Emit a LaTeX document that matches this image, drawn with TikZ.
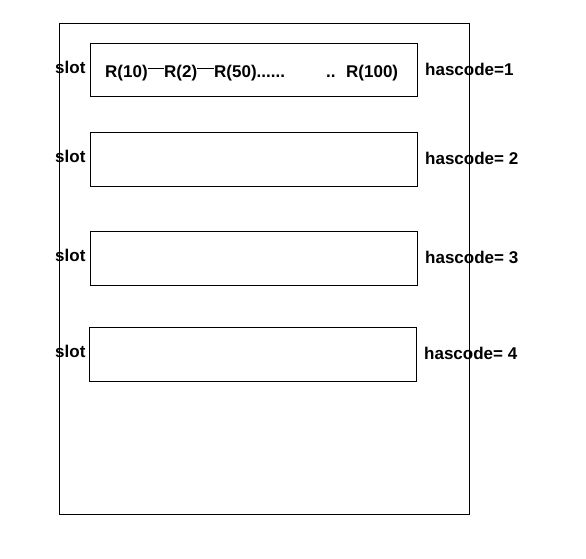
\documentclass[tikz,border=0pt]{standalone}
\usepackage{fontspec}
\setmainfont{Liberation Sans}
\begin{document}
\begin{tikzpicture}[x=1pt,y=-1pt,
  every node/.style={inner sep=0pt,font=\fontsize{17}{17}\selectfont\bfseries},
  frame/.style={draw=black,line width=1pt},
  slotbox/.style={draw=black,line width=1pt},
  lbl/.style={anchor=base west},
  link/.style={draw=black,line width=0.8pt}]
\useasboundingbox (0,0) rectangle (586,558);
\fill[white] (0,0) rectangle (586,558);
% outer table
\draw[frame] (59,23) rectangle (469,514);
% slot boxes
\draw[slotbox] (90,43) rectangle (417,96);
\draw[slotbox] (90,132) rectangle (417,186);
\draw[slotbox] (90,231) rectangle (417,285);
\draw[slotbox] (89,327) rectangle (416,381);
% slot labels
\node[lbl] (s1) at (55,73) {slot};
\node[lbl] (s2) at (55,162) {slot};
\node[lbl] (s3) at (55,261) {slot};
\node[lbl] (s4) at (55,357) {slot};
% hascode labels
\node[lbl] (h1) at (425,75) {hascode=1};
\node[lbl] (h2) at (425,164) {hascode= 2};
\node[lbl] (h3) at (425,263) {hascode= 3};
\node[lbl] (h4) at (424,359) {hascode= 4};
% chain
\node[lbl] (r10) at (105,77) {R(10)};
\node[lbl] (r2) at (164,77) {R(2)};
\node[lbl] (r50) at (214,77) {R(50)......};
\node[lbl] (dd) at (326,77) {..};
\node[lbl] (r100) at (346,77) {R(100)};
\draw[link] ([yshift=9pt]r10.base east) -- ([yshift=9pt]r2.base west);
\draw[link] ([yshift=9pt]r2.base east) -- ([yshift=9pt]r50.base west);
\end{tikzpicture}
\end{document}
